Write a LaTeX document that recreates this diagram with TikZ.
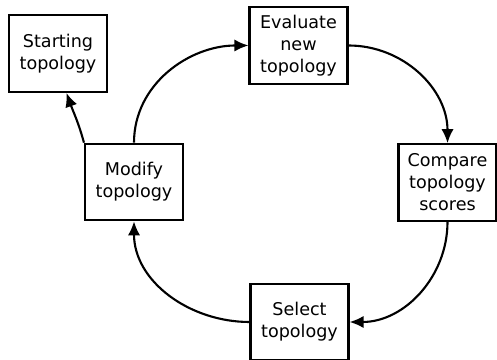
\documentclass[tikz,border=0pt]{standalone}
\usepackage{fontspec}
\setmainfont{DejaVu Sans}
\usepackage{tikz}
\usetikzlibrary{arrows.meta, positioning}

\tikzset{
    stepbox/.style={draw, line width=1.2pt, align=center, inner sep=0pt,
        minimum width=1.96cm, minimum height=1.53cm, font=\fontsize{10}{12.5}\selectfont},
    flow/.style={line width=1.2pt, -{Latex[length=8pt,width=7pt]}}
}

\begin{document}
\begin{tikzpicture}
    \useasboundingbox (0,0) rectangle (9.94,7.2);

    % Boxes
    \node[stepbox] (starting) at (1.16,6.13) {Starting\\topology};
    \node[stepbox] (evaluate) at (5.97,6.29) {Evaluate\\new\\topology};
    \node[stepbox] (compare) at (8.95,3.55) {Compare\\topology\\scores};
    \node[stepbox] (modify) at (2.68,3.56) {Modify\\topology};
    \node[stepbox] (select) at (5.99,0.76) {Select\\topology};

    % Cycle
    \draw[flow] (modify.north) to[out=90, in=180] (evaluate.west);
    \draw[flow] (evaluate.east) to[out=0, in=90] (compare.north);
    \draw[flow] (compare.south) to[out=-90, in=0] (select.east);
    \draw[flow] (select.west) to[out=180, in=-90] (modify.south);

    % Back to start
    \draw[flow] (modify.north west) to[out=105, in=-70] (starting.-78);
\end{tikzpicture}
\end{document}
